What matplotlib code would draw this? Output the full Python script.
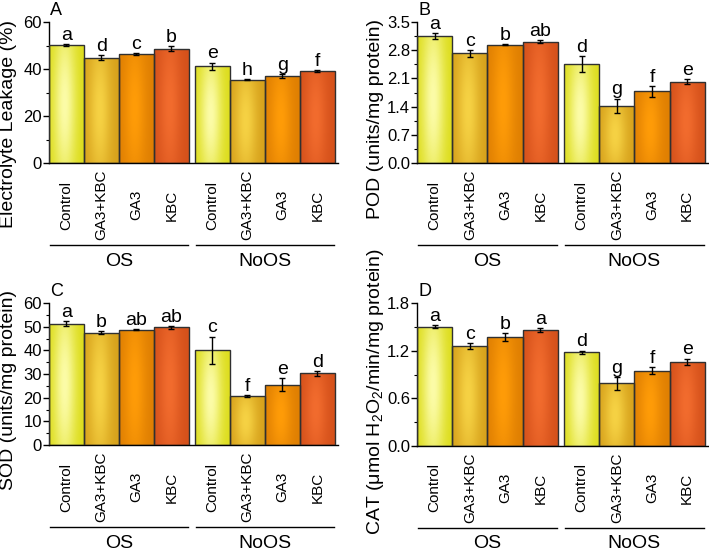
import numpy as np
import matplotlib
matplotlib.use("Agg")
from matplotlib import pyplot as plt
from matplotlib.colors import to_rgb
from matplotlib.transforms import offset_copy

plt.rcParams["font.family"] = ["Liberation Sans", "DejaVu Sans"]
plt.rcParams["mathtext.fontset"] = "custom"
plt.rcParams["mathtext.rm"] = "Liberation Sans"
plt.rcParams["mathtext.it"] = "Liberation Sans:italic"

treatments = ["Control", "GA3+KBC", "GA3", "KBC"]
groups = ["OS", "NoOS"]

el_mean = [50.2, 44.8, 46.3, 48.7, 41.1, 35.4, 37.1, 39.1]
el_err = [0.5, 1.0, 0.4, 0.9, 1.6, 0.2, 0.8, 0.3]
el_letters = ["a", "d", "c", "b", "e", "h", "g", "f"]

pod_mean = [3.15, 2.72, 2.94, 3.01, 2.45, 1.42, 1.78, 2.02]
pod_err = [0.08, 0.08, 0.02, 0.04, 0.20, 0.18, 0.13, 0.06]
pod_letters = ["a", "c", "b", "ab", "d", "g", "f", "e"]

sod_mean = [51.3, 47.5, 48.8, 49.7, 40.0, 20.6, 25.5, 30.3]
sod_err = [0.9, 0.5, 0.3, 0.7, 5.8, 0.5, 2.7, 1.1]
sod_letters = ["a", "b", "ab", "ab", "c", "f", "e", "d"]

cat_mean = [1.50, 1.26, 1.37, 1.46, 1.18, 0.79, 0.95, 1.06]
cat_err = [0.02, 0.04, 0.05, 0.02, 0.02, 0.08, 0.04, 0.04]
cat_letters = ["a", "c", "b", "a", "d", "g", "f", "e"]

# edge / centre colours of the gradient fill, one pair per treatment
edge_cols = ["#dcdc18", "#d6a01a", "#de7e02", "#d4501a"]
mid_cols = ["#fcfca8", "#f6d244", "#ff9c08", "#f26c2e"]

gap = 0.17
xpos = np.r_[np.arange(4), np.arange(4) + 4 + gap]

fig = plt.figure(figsize=(7.09, 5.51), dpi=100)

# u, v grid for the soft radial highlight inside each bar
uu, vv = np.meshgrid(np.linspace(0, 1, 60), np.linspace(0, 1, 120))
shade = np.exp(-((uu - 0.45) / 0.32) ** 2 - ((vv - 0.5) / 0.7) ** 2)


def panel(rect, means, errs, letters, ymax, major, minor, ylabel, ylab_xy, tag):
    ax = fig.add_axes(rect)
    h_px = rect[3] * 551
    bars = ax.bar(xpos, means, width=1.0, color="none", edgecolor="#303030",
                  linewidth=1.0, zorder=3)
    for i, b in enumerate(bars):
        e = np.array(to_rgb(edge_cols[i % 4]))
        m = np.array(to_rgb(mid_cols[i % 4]))
        img = e + (m - e) * shade[..., None]
        x0 = b.get_x()
        im = ax.imshow(img, extent=[x0, x0 + b.get_width(), 0, b.get_height()],
                       origin="lower", aspect="auto", interpolation="bilinear",
                       zorder=2)
        im.set_clip_path(b)
    ax.errorbar(xpos, means, yerr=errs, fmt="none", ecolor="black",
                elinewidth=1.0, capsize=2.5, capthick=1.0, zorder=4)
    for x, m, s, t in zip(xpos, means, errs, letters):
        ax.annotate(t, (x, m + s), xytext=(0, 3), textcoords="offset points",
                    ha="center", va="baseline", fontsize=14)

    ax.set_xlim(-0.5, 7.76)
    ax.set_ylim(0, ymax)
    ax.set_yticks(np.arange(0, ymax + 1e-9, major))
    ax.set_yticks(np.arange(0, ymax + 1e-9, minor), minor=True)
    if major < 1:
        ax.set_yticklabels([f"{v:.1f}" for v in np.arange(0, ymax + 1e-9, major)])
    ax.tick_params(axis="y", direction="out", length=4, width=1, labelsize=12, pad=1)
    ax.tick_params(axis="y", which="minor", direction="out", length=2, width=0.8)
    ax.tick_params(axis="x", bottom=False, labelbottom=False)
    for sp in ["top", "right"]:
        ax.spines[sp].set_visible(False)
    ax.spines["left"].set_linewidth(1)
    ax.spines["bottom"].set_linewidth(1)

    xt = ax.get_xaxis_transform()
    for x, name in zip(xpos, treatments * 2):
        ax.text(x, 0, name, transform=offset_copy(xt, fig=fig, y=-42, units="dots"),
                rotation=90, ha="center", va="center", fontsize=11)
    line_tr = offset_copy(xt, fig=fig, y=-82, units="dots")
    lab_tr = offset_copy(xt, fig=fig, y=-98, units="dots")
    for k, g in enumerate(groups):
        lo = xpos[4 * k] - 0.48
        hi = xpos[4 * k + 3] + 0.48
        ax.plot([lo, hi], [0, 0], color="black", lw=1, transform=line_tr, clip_on=False)
        ax.text((lo + hi) / 2, 0, g, transform=lab_tr, ha="center", va="center",
                fontsize=14)

    ax.text(0.005, (h_px + 20) / h_px, tag, transform=ax.transAxes, ha="left",
            va="top", fontsize=13)
    fig.text(ylab_xy[0] / 709, 1 - ylab_xy[1] / 551, ylabel, rotation=90,
             ha="center", va="center", fontsize=14)
    return ax


panel([49 / 709, 1 - 163 / 551, 289 / 709, 141 / 551], el_mean, el_err, el_letters,
      60, 20, 10, "Electrolyte Leakage (%)", (9, 124), "A")
panel([417 / 709, 1 - 163 / 551, 291 / 709, 141 / 551], pod_mean, pod_err, pod_letters,
      3.5, 0.7, 0.35, "POD (units/mg protein)", (376, 119), "B")
panel([49 / 709, 1 - 445 / 551, 289 / 709, 142 / 551], sod_mean, sod_err, sod_letters,
      60, 10, 5, "SOD (units/mg protein)", (9, 390), "C")
panel([417 / 709, 1 - 446 / 551, 291 / 709, 143 / 551], cat_mean, cat_err, cat_letters,
      1.8, 0.6, 0.3, r"CAT (μmol H$_2$O$_2$/min/mg protein)", (376, 392), "D")

fig.savefig("out.png", dpi=100)
plt.close(fig)
